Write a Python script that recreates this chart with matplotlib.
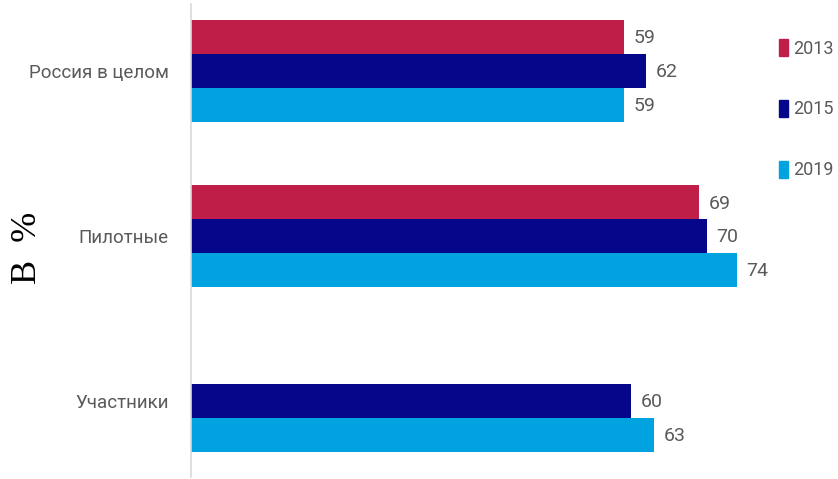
import matplotlib
matplotlib.use("Agg")
import matplotlib.pyplot as plt
import numpy as np

categories = ["Россия в целом", "Пилотные", "Участники"]
years = ["2013", "2015", "2019"]
values_2013 = [59, 69, None]
values_2015 = [62, 70, 60]
values_2019 = [59, 74, 63]
series = [values_2013, values_2015, values_2019]
colors = ["#BE1E48", "#06068A", "#00A2DF"]

W, H = 838, 479
fig = plt.figure(figsize=(W / 100, H / 100), dpi=100)
ax_left, ax_right, ax_top, ax_bottom = 191, 782, 4, 477
ax = fig.add_axes([ax_left / W, 1 - ax_bottom / H, (ax_right - ax_left) / W, (ax_bottom - ax_top) / H])

narrow = ["Roboto", "DejaVu Sans"]
gray = "#5a5a5a"

bh = 0.205
y = np.arange(len(categories))
offsets = [-bh, 0, bh]
handles = []
for vals, off, col, yr in zip(series, offsets, colors, years):
    for i, v in enumerate(vals):
        if v is None:
            continue
        ax.barh(y[i] + off, v, height=bh, color=col, left=0)
        ax.annotate(str(v), (v, y[i] + off), xytext=(7, -1), textcoords="offset points",
                    va="center", ha="left", fontsize=14, color=gray, family=narrow)
    handles.append(plt.Rectangle((0, 0), 1, 1, color=col, label=yr))

ax.set_xlim(1.5, 80)
ax.set_ylim(2.46, -0.405)
ax.set_yticks(y)
ax.set_yticklabels(categories, fontsize=13.5, color=gray, family=narrow)
ax.tick_params(axis="y", length=0, pad=16)
ax.set_xticks([])
for s in ["top", "right", "bottom"]:
    ax.spines[s].set_visible(False)
ax.spines["left"].set_color("#d9d9d9")
ax.spines["left"].set_linewidth(1.2)

fig.text(27 / W, 1 - 248 / H, "В  %", rotation=90, ha="center", va="center",
         fontsize=26, family=["Liberation Serif", "DejaVu Serif"], color="black")

leg = fig.legend(handles=handles, loc="upper left", bbox_to_anchor=(779 / W, 1 - 39 / H),
                 frameon=False, handlelength=0.5, handleheight=1.05,
                 handletextpad=0.3, labelspacing=2.35, borderpad=0, borderaxespad=0,
                 prop={"family": narrow, "size": 13})
for t in leg.get_texts():
    t.set_color(gray)

fig.savefig("out.png", dpi=100, facecolor="white")
